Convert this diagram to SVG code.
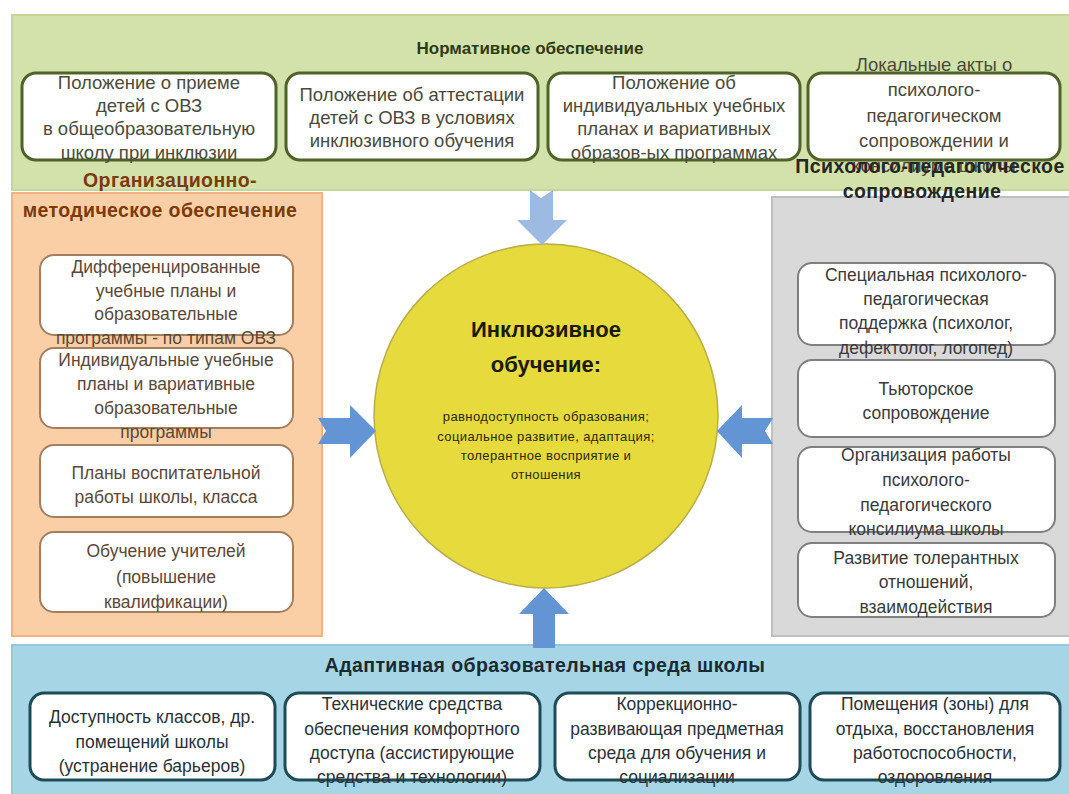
<svg xmlns="http://www.w3.org/2000/svg" width="1069" height="794" viewBox="0 0 1069 794">
<style>
text{font-family:"Liberation Sans",Arial,sans-serif;text-anchor:middle}
.bt{font-size:17.5px}
.tt{font-size:18.5px}
.h{font-size:17px;font-weight:bold}
.sh{font-size:19.5px;font-weight:bold;letter-spacing:0.4px}
.gb{fill:#fff;stroke:#4f6228;stroke-width:3}
.ob{fill:#fff;stroke:#a08060;stroke-width:2}
.rb{fill:#fff;stroke:#7f7f7f;stroke-width:2}
.bb{fill:#fff;stroke:#1f4a58;stroke-width:3}
.gt{fill:#4a4a3a}
.ot{fill:#5a4838}
.rt{fill:#3a3a3a}
.bx{fill:#2a3238}
.a1{fill:#9dbbe2}
.a2{fill:#6394d4}
</style>
<rect width="1069" height="794" fill="#fff"/>
<g id="band-top">
<rect x="12" y="15" width="1060" height="175" fill="#d3e2aa" stroke="#c3d69b" stroke-width="2"/>
<text x="530" y="54" class="h" fill="#2f3a14">Нормативное обеспечение</text>
</g>
<g id="panel-left">
<rect x="12" y="193" width="310" height="443" fill="#fbcfa6" stroke="#f4b183" stroke-width="2"/>
</g>
<g id="panel-right">
<rect x="772" y="197" width="300" height="439" fill="#d9d9d9" stroke="#bfbfbf" stroke-width="2"/>
</g>
<g id="band-bottom">
<rect x="12" y="645" width="1060" height="152" fill="#a6d6e6" stroke="#93c8da" stroke-width="2"/>
<text x="545" y="672" class="sh" fill="#1a2a33">Адаптивная образовательная среда школы</text>
</g>
<g id="top-1"><rect class="gb" x="22" y="73" width="254" height="87" rx="14"/>
<text class="tt gt"><tspan x="149" y="89">Положение о приеме</tspan><tspan x="149" y="112">детей с ОВЗ</tspan><tspan x="149" y="135">в общеобразовательную</tspan><tspan x="149" y="159">школу  при инклюзии</tspan></text></g>
<g id="top-2"><rect class="gb" x="286" y="73" width="252" height="87" rx="14"/>
<text class="tt gt"><tspan x="412" y="101">Положение об аттестации</tspan><tspan x="412" y="124">детей с ОВЗ в условиях</tspan><tspan x="412" y="147">инклюзивного обучения</tspan></text></g>
<g id="top-3"><rect class="gb" x="548" y="73" width="252" height="87" rx="14"/>
<text class="tt gt"><tspan x="674" y="89">Положение об</tspan><tspan x="674" y="112">индивидуальных учебных</tspan><tspan x="674" y="135">планах и вариативных</tspan><tspan x="674" y="159">образов-ых программах</tspan></text></g>
<g id="top-4"><rect class="gb" x="808" y="73" width="252" height="87" rx="14"/>
<text class="tt gt"><tspan x="934" y="71">Локальные акты о</tspan><tspan x="934" y="96">психолого-</tspan><tspan x="934" y="122">педагогическом</tspan><tspan x="934" y="147">сопровождении и</tspan><tspan x="934" y="172">консилиуме школы</tspan></text></g>
<g id="title-left"><text class="sh" fill="#7a3a0a"><tspan x="170" y="187">Организационно-</tspan><tspan x="160" y="217">методическое обеспечение</tspan></text></g>
<g id="title-right"><text class="sh" fill="#262626"><tspan x="930" y="173">Психолого-педагогическое</tspan><tspan x="922" y="198">сопровождение</tspan></text></g>
<g id="left-1"><rect class="ob" x="40" y="255" width="253" height="80" rx="14"/>
<text class="bt ot"><tspan x="166" y="273">Дифференцированные</tspan><tspan x="166" y="297">учебные планы и</tspan><tspan x="166" y="320">образовательные</tspan><tspan x="166" y="344">программы - по типам ОВЗ</tspan></text></g>
<g id="left-2"><rect class="ob" x="40" y="348" width="253" height="80" rx="14"/>
<text class="bt ot"><tspan x="166" y="366">Индивидуальные учебные</tspan><tspan x="166" y="390">планы и вариативные</tspan><tspan x="166" y="414">образовательные</tspan><tspan x="166" y="438">программы</tspan></text></g>
<g id="left-3"><rect class="ob" x="40" y="445" width="253" height="72" rx="14"/>
<text class="bt ot"><tspan x="166" y="479">Планы воспитательной</tspan><tspan x="166" y="503">работы школы, класса</tspan></text></g>
<g id="left-4"><rect class="ob" x="40" y="532" width="253" height="80" rx="14"/>
<text class="bt ot"><tspan x="166" y="557">Обучение учителей</tspan><tspan x="166" y="583">(повышение</tspan><tspan x="166" y="608">квалификации)</tspan></text></g>
<g id="right-1"><rect class="rb" x="798" y="263" width="257" height="82" rx="14"/>
<text class="bt rt"><tspan x="926" y="281">Специальная психолого-</tspan><tspan x="926" y="305">педагогическая</tspan><tspan x="926" y="329">поддержка (психолог,</tspan><tspan x="926" y="354">дефектолог, логопед)</tspan></text></g>
<g id="right-2"><rect class="rb" x="798" y="360" width="257" height="77" rx="14"/>
<text class="bt rt"><tspan x="926" y="395">Тьюторское</tspan><tspan x="926" y="419">сопровождение</tspan></text></g>
<g id="right-3"><rect class="rb" x="798" y="447" width="257" height="85" rx="14"/>
<text class="bt rt"><tspan x="926" y="461">Организация работы</tspan><tspan x="926" y="486">психолого-</tspan><tspan x="926" y="511">педагогического</tspan><tspan x="926" y="535">консилиума школы</tspan></text></g>
<g id="right-4"><rect class="rb" x="798" y="543" width="257" height="74" rx="14"/>
<text class="bt rt"><tspan x="926" y="564">Развитие толерантных</tspan><tspan x="926" y="588">отношений,</tspan><tspan x="926" y="613">взаимодействия</tspan></text></g>
<g id="bottom-1"><rect class="bb" x="30" y="693" width="245" height="87" rx="14"/>
<text class="bt bx"><tspan x="152" y="723">Доступность классов, др.</tspan><tspan x="152" y="748">помещений школы</tspan><tspan x="152" y="772">(устранение барьеров)</tspan></text></g>
<g id="bottom-2"><rect class="bb" x="285" y="693" width="255" height="87" rx="14"/>
<text class="bt bx"><tspan x="412" y="710">Технические средства</tspan><tspan x="412" y="735">обеспечения комфортного</tspan><tspan x="412" y="759">доступа (ассистирующие</tspan><tspan x="412" y="783">средства и технологии)</tspan></text></g>
<g id="bottom-3"><rect class="bb" x="555" y="693" width="245" height="87" rx="14"/>
<text class="bt bx"><tspan x="677" y="710">Коррекционно-</tspan><tspan x="677" y="735">развивающая предметная</tspan><tspan x="677" y="759">среда для обучения и</tspan><tspan x="677" y="783">социализации</tspan></text></g>
<g id="bottom-4"><rect class="bb" x="810" y="693" width="250" height="87" rx="14"/>
<text class="bt bx"><tspan x="935" y="710">Помещения (зоны) для</tspan><tspan x="935" y="735">отдыха, восстановления</tspan><tspan x="935" y="759">работоспособности,</tspan><tspan x="935" y="783">оздоровления</tspan></text></g>
<g id="center">
<circle cx="546" cy="416" r="172" fill="#e6da3c" stroke="#b8ae48" stroke-width="1.5"/>
<text font-size="22" font-weight="bold" fill="#1a1a0a"><tspan x="546" y="337">Инклюзивное</tspan><tspan x="546" y="372">обучение:</tspan></text>
<text font-size="13" letter-spacing="0.4" fill="#2a2a10"><tspan x="546" y="421">равнодоступность образования;</tspan><tspan x="546" y="441">социальное развитие, адаптация;</tspan><tspan x="546" y="460">толерантное восприятие и</tspan><tspan x="546" y="479">отношения</tspan></text>
</g>
<g id="connectors">
<polygon class="a1" points="530,190 541,198 553,190 553,220 567,220 542,245 517,220 530,220"/>
<polygon class="a2" points="318,418 350,418 350,405 376,431 350,458 350,444 318,444 326,431"/>
<polygon class="a2" points="773,418 742,418 742,405 717,431 742,458 742,444 773,444 765,431"/>
<polygon class="a2" points="533,648 533,614 519,614 544,588 569,614 555,614 555,648"/>
</g>
</svg>
